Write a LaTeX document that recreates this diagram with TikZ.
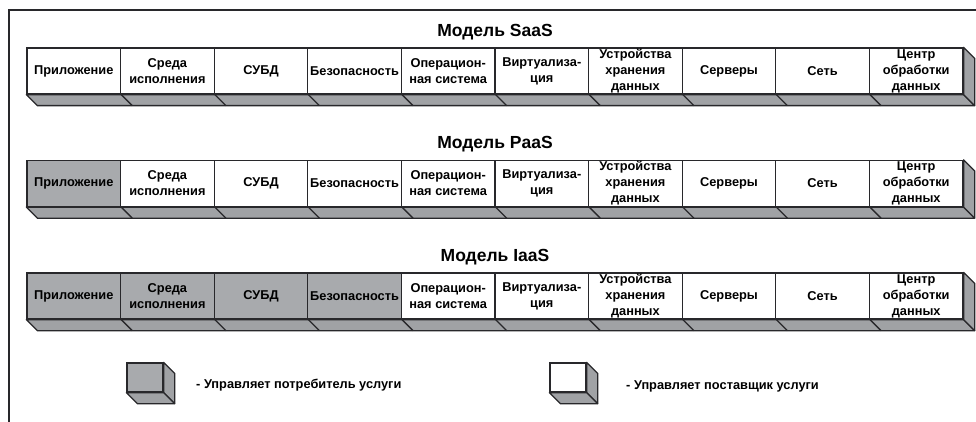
\documentclass[tikz,border=0pt]{standalone}
\usepackage{fontspec}
\setmainfont{Liberation Sans}
\definecolor{facegray}{RGB}{168,170,173}
\definecolor{shadegray}{RGB}{160,162,165}
\definecolor{edgec}{RGB}{40,40,43}
\begin{document}
\begin{tikzpicture}[x=1pt,y=-1pt,
  cell/.style={draw=edgec, line width=1.3pt, minimum width=93.6pt, minimum height=46pt,
    inner sep=0pt, align=center, font=\fontsize{12.8}{16}\selectfont\bfseries, text=black},
  own/.style={cell, fill=facegray},
  prov/.style={cell, fill=white},
  face/.style={draw=edgec, line width=1.3pt, fill=shadegray, line join=round},
  edgeline/.style={draw=edgec, line width=1.3pt},
  title/.style={font=\fontsize{17.5}{19}\selectfont\bfseries, text=black, inner sep=0pt},
  legtext/.style={font=\fontsize{12.8}{14}\selectfont\bfseries, text=black, anchor=west, inner sep=0pt},
  legbox/.style={draw=edgec, line width=1.3pt, minimum width=36pt, minimum height=29pt, inner sep=0pt}
]
\useasboundingbox (0,0) rectangle (976,422);
% outer frame
\draw[edgeline] (976,10) -- (9,10) -- (9,422);
% rows
\foreach \r/\T/\ng/\nm in {1/48/0/SaaS, 2/160.5/1/PaaS, 3/273/4/IaaS}{
  \foreach \i/\t in {1/Приложение, 2/{Среда\\исполнения}, 3/СУБД, 4/Безопасность,
      5/{Операцион-\\ная система}, 6/{Виртуализа-\\ция}, 7/{Устройства\\хранения\\данных},
      8/Серверы, 9/Сеть, 10/{Центр\\обработки\\данных}}{
    \ifnum\i>\ng\def\st{prov}\else\def\st{own}\fi
    \node[\st] (c\r-\i) at ({27+93.6*(\i-0.5)},{\T+23}) {\t};
  }
  \draw[face] (c\r-1.south west) -- (c\r-10.south east) -- ([shift={(11,11)}]c\r-10.south east)
     -- ([shift={(11,11)}]c\r-1.south west) -- cycle;
  \draw[face] (c\r-10.north east) -- ([shift={(11,11)}]c\r-10.north east)
     -- ([shift={(11,11)}]c\r-10.south east) -- (c\r-10.south east) -- cycle;
  \foreach \i in {1,...,9}{
    \draw[edgeline] (c\r-\i.south east) -- ([shift={(11,11)}]c\r-\i.south east);
  }
  \node[title] (t\r) at (495,{\T-16}) {Модель \nm};
}
% legend
\node[legbox, fill=facegray] (lg1) at (145,377.5) {};
\node[legbox, fill=white] (lg2) at (568,377.5) {};
\foreach \b in {lg1,lg2}{
  \draw[face] (\b.north east) -- ([shift={(11,11)}]\b.north east)
     -- ([shift={(11,11)}]\b.south east) -- (\b.south east) -- cycle;
  \draw[face] (\b.south west) -- (\b.south east) -- ([shift={(11,11)}]\b.south east)
     -- ([shift={(11,11)}]\b.south west) -- cycle;
}
\node[legtext] (lt1) at (196,385) {- Управляет потребитель услуги};
\node[legtext] (lt2) at (626,386) {- Управляет поставщик услуги};
\end{tikzpicture}
\end{document}
